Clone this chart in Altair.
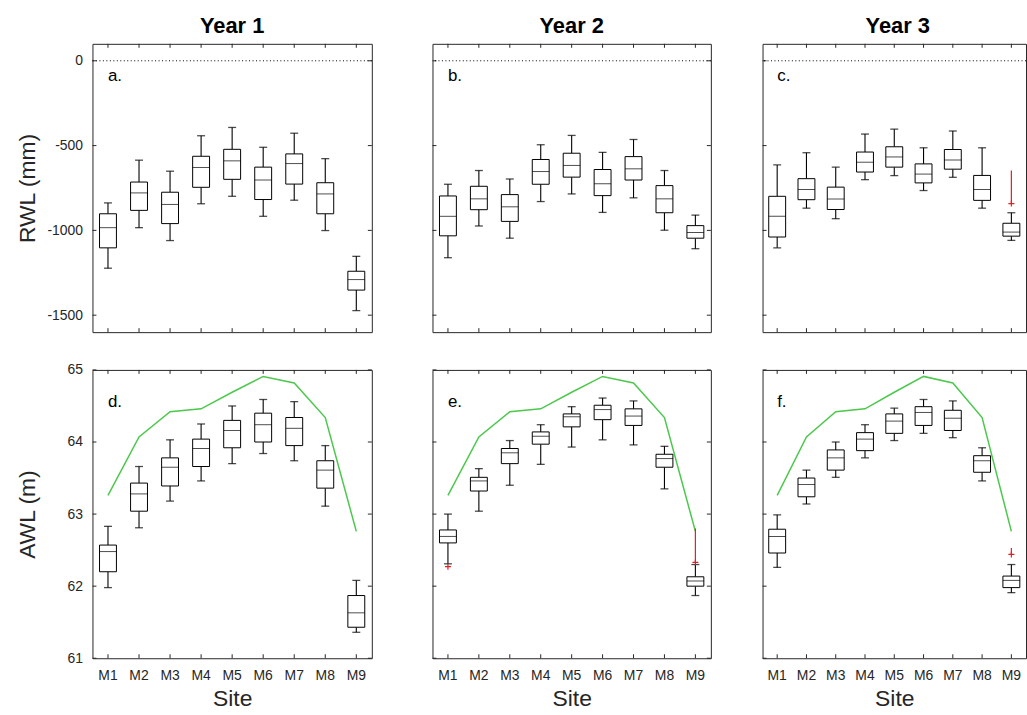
import altair as alt
import pandas as pd

sites = ["M1", "M2", "M3", "M4", "M5", "M6", "M7", "M8", "M9"]
years = ["Year 1", "Year 2", "Year 3"]

# RWL (mm): lower whisker, Q1, median, Q3, upper whisker per site
rwl1_lo = [-1223, -984, -1060, -843, -799, -917, -822, -1001, -1473]
rwl1_q1 = [-1103, -882, -960, -746, -699, -818, -727, -902, -1352]
rwl1_md = [-984, -779, -847, -629, -590, -703, -606, -785, -1290]
rwl1_q3 = [-902, -715, -775, -563, -522, -627, -549, -719, -1241]
rwl1_hi = [-838, -586, -651, -442, -393, -510, -427, -577, -1153]

rwl2_lo = [-1161, -974, -1046, -830, -785, -894, -808, -999, -1108]
rwl2_q1 = [-1032, -878, -947, -728, -686, -795, -703, -896, -1046]
rwl2_md = [-917, -814, -861, -653, -617, -725, -637, -814, -1013]
rwl2_q3 = [-797, -740, -789, -582, -545, -641, -565, -736, -972]
rwl2_hi = [-728, -647, -697, -495, -440, -540, -464, -647, -910]

rwl3_lo = [-1103, -869, -931, -701, -677, -765, -687, -869, -1059]
rwl3_q1 = [-1039, -819, -877, -656, -627, -720, -639, -823, -1034]
rwl3_md = [-916, -759, -815, -598, -567, -668, -585, -759, -1010]
rwl3_q3 = [-799, -695, -745, -538, -507, -608, -523, -676, -958]
rwl3_hi = [-614, -542, -627, -432, -403, -513, -414, -513, -896]
# outlier spread (lowest and highest outlier) per site that has outliers
rwl3_out_site = ["M9"]
rwl3_out_lo = [-842]
rwl3_out_hi = [-647]

# AWL (m): lower whisker, Q1, median, Q3, upper whisker per site
awl1_lo = [61.98, 62.81, 63.18, 63.46, 63.70, 63.84, 63.74, 63.11, 61.36]
awl1_q1 = [62.20, 63.04, 63.39, 63.66, 63.92, 64.00, 63.95, 63.36, 61.43]
awl1_md = [62.48, 63.28, 63.65, 63.91, 64.16, 64.24, 64.19, 63.61, 61.63]
awl1_q3 = [62.57, 63.43, 63.78, 64.04, 64.30, 64.40, 64.34, 63.74, 61.87]
awl1_hi = [62.83, 63.66, 64.03, 64.25, 64.50, 64.59, 64.56, 63.95, 62.08]

awl2_lo = [62.31, 63.04, 63.40, 63.69, 63.93, 64.03, 63.96, 63.35, 61.87]
awl2_q1 = [62.60, 63.32, 63.70, 63.97, 64.21, 64.31, 64.23, 63.65, 62.00]
awl2_md = [62.69, 63.46, 63.85, 64.08, 64.35, 64.45, 64.36, 63.77, 62.07]
awl2_q3 = [62.78, 63.51, 63.91, 64.14, 64.39, 64.51, 64.46, 63.83, 62.13]
awl2_hi = [63.00, 63.63, 64.02, 64.24, 64.49, 64.61, 64.57, 63.94, 62.30]
awl2_out_site = ["M1", "M9"]
awl2_out_lo = [62.27, 62.33]
awl2_out_hi = [62.27, 62.80]

awl3_lo = [62.26, 63.14, 63.51, 63.78, 64.02, 64.12, 64.06, 63.46, 61.91]
awl3_q1 = [62.46, 63.24, 63.61, 63.88, 64.12, 64.23, 64.16, 63.58, 61.98]
awl3_md = [62.69, 63.41, 63.78, 64.04, 64.29, 64.41, 64.33, 63.74, 62.08]
awl3_q3 = [62.79, 63.50, 63.89, 64.13, 64.39, 64.49, 64.44, 63.81, 62.14]
awl3_hi = [62.99, 63.61, 64.00, 64.24, 64.47, 64.59, 64.57, 63.92, 62.30]
awl3_out_site = ["M9"]
awl3_out_lo = [62.44]
awl3_out_hi = [62.53]

# Bank elevation line drawn over the AWL boxes
bank_awl = [63.26, 64.07, 64.42, 64.46, 64.69, 64.91, 64.82, 64.34, 62.76]

rwl_ticks = [0, -500, -1000, -1500]
awl_ticks = [61, 62, 63, 64, 65]

FONT = "Liberation Sans"
FRAME = "#262626"
RED = "#e02020"
TICK = 4
BOX_W = 17
CAP_W = 8


def box_panel(stats, outliers, *, ydomain, yticks, ytitle, show_y,
              show_x, letter, letter_y, width, span, height,
              right_ticks=True, zero_line=False, bank=None, title=None):
    lo, q1, md, q3, hi = stats
    df = pd.DataFrame({"site": sites, "lo": lo, "q1": q1, "md": md,
                       "q3": q3, "hi": hi})
    # the band step follows the full panel span; a panel cropped at the
    # right edge keeps that step by letting the outer padding go negative
    outer = (width / (span / len(sites)) - len(sites)) / 2
    if abs(outer) < 1e-9:
        xscale = alt.Scale(type="band", domain=sites, paddingInner=0,
                           paddingOuter=0)
    else:
        xscale = alt.Scale(type="band", domain=sites, paddingInner=0,
                           paddingOuter=alt.ExprRef(f"{outer:.4f}"),
                           align=0)
    if show_x:
        xaxis = alt.Axis(title="Site", labelFontSize=14, titleFontSize=23,
                         labelPadding=10, titlePadding=6, ticks=False,
                         domain=False, grid=False, labelAngle=0)
    else:
        xaxis = None
    yscale = alt.Scale(domain=ydomain, nice=False, zero=False)
    if show_y:
        yaxis = alt.Axis(values=yticks, title=ytitle, labelFontSize=14,
                         titleFontSize=23, labelPadding=10, titlePadding=13,
                         ticks=False, domain=False, grid=False,
                         labelExpr="'' + datum.value",
                         minExtent=40, maxExtent=40)
    else:
        yaxis = None

    def X():
        return alt.X("site:N", scale=xscale, axis=xaxis, sort=sites,
                     title="Site")

    def Y(field):
        return alt.Y(f"{field}:Q", scale=yscale, axis=yaxis, title=ytitle)

    base = alt.Chart(df)
    layers = []

    # inward ticks on the sides of the frame
    site_df = pd.DataFrame({"site": sites})
    layers.append(alt.Chart(site_df).mark_rule(color=FRAME, strokeWidth=1)
                  .encode(x=X(), y=alt.value(0), y2=alt.value(TICK)))
    layers.append(alt.Chart(site_df).mark_rule(color=FRAME, strokeWidth=1)
                  .encode(x=X(), y=alt.value(height - TICK),
                          y2=alt.value(height)))
    tick_df = pd.DataFrame({"v": yticks})
    layers.append(alt.Chart(tick_df).mark_rule(color=FRAME, strokeWidth=1)
                  .encode(y=Y("v"), x=alt.value(0), x2=alt.value(TICK)))
    if right_ticks:
        layers.append(alt.Chart(tick_df).mark_rule(color=FRAME, strokeWidth=1)
                      .encode(y=Y("v"), x=alt.value(width - TICK),
                              x2=alt.value(width)))

    if zero_line:
        layers.append(alt.Chart(pd.DataFrame({"v": [0]}))
                      .mark_rule(color="black", strokeWidth=1,
                                 strokeDash=[1, 2.5])
                      .encode(y=Y("v")))

    if bank is not None:
        layers.append(alt.Chart(pd.DataFrame({"site": sites, "g": bank}))
                      .mark_line(color="#4cc84c", strokeWidth=1.5)
                      .encode(x=X(), y=Y("g")))

    # whiskers and caps
    layers.append(base.mark_rule(color="black", strokeWidth=1.1)
                  .encode(x=X(), y=Y("q3"), y2="hi:Q"))
    layers.append(base.mark_rule(color="black", strokeWidth=1.1)
                  .encode(x=X(), y=Y("lo"), y2="q1:Q"))
    layers.append(base.mark_tick(size=CAP_W, thickness=1.3, color="black",
                                 orient="horizontal")
                  .encode(x=X(), y=Y("hi")))
    layers.append(base.mark_tick(size=CAP_W, thickness=1.3, color="black",
                                 orient="horizontal")
                  .encode(x=X(), y=Y("lo")))

    # boxes and medians
    layers.append(base.mark_bar(width=BOX_W, fill="white", stroke="black",
                                strokeWidth=1)
                  .encode(x=X(), y=Y("q1"), y2="q3:Q"))
    layers.append(base.mark_tick(size=BOX_W, thickness=1, color="black",
                                 orient="horizontal")
                  .encode(x=X(), y=Y("md")))

    # outliers: red '+' at the lowest, red stroke up through the rest
    if outliers is not None:
        o_site, o_lo, o_hi = outliers
        odf = pd.DataFrame({"site": o_site, "olo": o_lo, "ohi": o_hi})
        layers.append(alt.Chart(odf).mark_rule(color=RED, strokeWidth=1.2)
                      .encode(x=X(), y=Y("olo"), y2="ohi:Q"))
        layers.append(alt.Chart(odf)
                      .mark_point(shape="M-1,0H1M0,-1V1", size=36,
                                  filled=False, color=RED,
                                  strokeWidth=1.2, opacity=1)
                      .encode(x=X(), y=Y("olo")))

    layers.append(alt.Chart(pd.DataFrame({"site": ["M1"], "v": [letter_y],
                                          "t": [letter]}))
                  .mark_text(align="left", baseline="middle", fontSize=17,
                             font=FONT, color="black")
                  .encode(x=X(), y=Y("v"), text="t:N"))

    # column heading centred over the full panel span
    if title:
        layers.append(alt.Chart(pd.DataFrame({"t": [title]}))
                      .mark_text(align="center", baseline="middle",
                                 fontSize=22, fontWeight="bold", font=FONT,
                                 color="black")
                      .encode(text="t:N", x=alt.value(span / 2),
                              y=alt.value(-18)))

    return alt.layer(*layers).properties(width=width, height=height)


RWL_DOM = [-1600, 100]
AWL_DOM = [61, 65]
H = 290
W1, W2, W3 = 281, 280, 265
S3 = 272

pa = box_panel((rwl1_lo, rwl1_q1, rwl1_md, rwl1_q3, rwl1_hi), None,
               ydomain=RWL_DOM, yticks=rwl_ticks, ytitle="RWL (mm)",
               show_y=True, show_x=False, letter="a.", letter_y=-90,
               width=W1, span=W1, height=H, zero_line=True, title=years[0])
pb = box_panel((rwl2_lo, rwl2_q1, rwl2_md, rwl2_q3, rwl2_hi), None,
               ydomain=RWL_DOM, yticks=rwl_ticks, ytitle="RWL (mm)",
               show_y=False, show_x=False, letter="b.", letter_y=-90,
               width=W2, span=W2, height=H, zero_line=True, title=years[1])
pc = box_panel((rwl3_lo, rwl3_q1, rwl3_md, rwl3_q3, rwl3_hi),
               (rwl3_out_site, rwl3_out_lo, rwl3_out_hi),
               ydomain=RWL_DOM, yticks=rwl_ticks, ytitle="RWL (mm)",
               show_y=False, show_x=False, letter="c.", letter_y=-90,
               width=W3, span=S3, height=H, right_ticks=False,
               zero_line=True, title=years[2])
pd_ = box_panel((awl1_lo, awl1_q1, awl1_md, awl1_q3, awl1_hi), None,
                ydomain=AWL_DOM, yticks=awl_ticks, ytitle="AWL (m)",
                show_y=True, show_x=True, letter="d.", letter_y=64.56,
                width=W1, span=W1, height=H, bank=bank_awl)
pe = box_panel((awl2_lo, awl2_q1, awl2_md, awl2_q3, awl2_hi),
               (awl2_out_site, awl2_out_lo, awl2_out_hi),
               ydomain=AWL_DOM, yticks=awl_ticks, ytitle="AWL (m)",
               show_y=False, show_x=True, letter="e.", letter_y=64.56,
               width=W2, span=W2, height=H, bank=bank_awl)
pf = box_panel((awl3_lo, awl3_q1, awl3_md, awl3_q3, awl3_hi),
               (awl3_out_site, awl3_out_lo, awl3_out_hi),
               ydomain=AWL_DOM, yticks=awl_ticks, ytitle="AWL (m)",
               show_y=False, show_x=True, letter="f.", letter_y=64.56,
               width=W3, span=S3, height=H, right_ticks=False,
               bank=bank_awl)

top = alt.hconcat(alt.hconcat(pa, pb, spacing=59), pc, spacing=50)
bottom = alt.hconcat(alt.hconcat(pd_, pe, spacing=59), pf, spacing=50)

chart = (
    alt.vconcat(top, bottom, spacing=29)
    .properties(padding={"left": 16, "top": 12, "right": 0, "bottom": 0})
    .configure(font=FONT)
    .configure_view(stroke=FRAME, strokeWidth=1)
    .configure_axis(labelFont=FONT, titleFont=FONT, labelColor=FRAME,
                    titleColor=FRAME, titleFontWeight="normal")
)

chart.save("out.html", embed_options={"renderer": "svg", "actions": False})
